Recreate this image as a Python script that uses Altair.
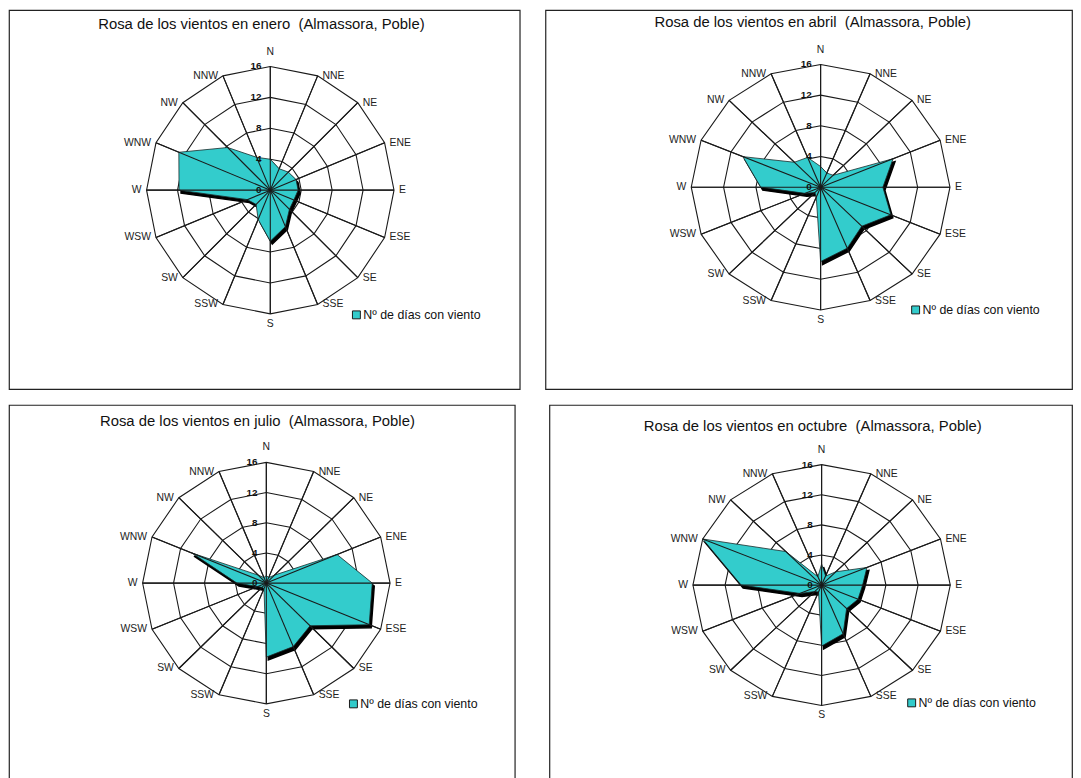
import altair as alt
import pandas as pd

# ---------------- data ----------------
DIRS = ["N", "NNE", "NE", "ENE", "E", "ESE", "SE", "SSE",
        "S", "SSW", "SW", "WSW", "W", "WNW", "NW", "NNW"]

ENERO = [4.0, 3.0, 3.3, 3.6, 3.6, 3.3, 3.5, 5.1, 6.6, 4.1, 2.6, 3.2, 11.8, 12.8, 7.8, 4.6]
ABRIL = [2.7, 2.0, 2.2, 9.7, 7.7, 9.4, 7.2, 8.6, 9.7, 1.4, 1.0, 2.1, 7.4, 10.4, 4.6, 4.2]
JULIO = [1.0, 0.8, 1.5, 9.9, 13.7, 14.4, 8.0, 9.1, 9.8, 0.8, 0.8, 1.2, 3.8, 10.4, 1.5, 0.8]
OCTUBRE = [2.8, 1.3, 2.5, 6.1, 5.1, 4.9, 4.4, 7.0, 8.1, 1.0, 1.2, 2.9, 10.0, 16.0, 6.3, 1.2]

RINGS = [4, 8, 12, 16]
TICKS = [0, 4, 8, 12, 16]
MONTHS = ["enero", "abril", "julio", "octubre"]
LEGEND_LABEL = "Nº de días con viento"
TITLE_FMT = "Rosa de los vientos en {}\u00a0 (Almassora, Poble)"

FILL = "#33CCCC"
GRID = "#1a1a1a"
FONT = "Liberation Sans"
ANG = "datum.k * PI / 8"


def radar(values, month, W, H, cx, cy, rx, ry, tpos, lpos):
    xs = alt.Scale(domain=[-cx * 16 / rx, (W - cx) * 16 / rx], nice=False, zero=False)
    ys = alt.Scale(domain=[-(H - cy) * 16 / ry, cy * 16 / ry], nice=False, zero=False)
    X = alt.X("x:Q", scale=xs, axis=None)
    Y = alt.Y("y:Q", scale=ys, axis=None)

    poly = pd.DataFrame({"k": list(range(17)), "v": values + values[:1]})
    rings = pd.DataFrame([{"r": r, "k": k} for r in RINGS for k in range(17)])
    dirs = pd.DataFrame({"k": list(range(16)), "dir": DIRS})
    ticks = pd.DataFrame({"t": TICKS})

    ring_layer = alt.Chart(rings).transform_calculate(
        x=f"datum.r * sin({ANG})", y=f"datum.r * cos({ANG})"
    ).mark_line(stroke=GRID, strokeWidth=1.1).encode(X, Y, detail="r:N", order="k:Q")

    def spoke_layer():
        return alt.Chart(dirs).transform_calculate(
            x0="0", y0="0", x=f"16 * sin({ANG})", y=f"16 * cos({ANG})"
        ).mark_rule(stroke=GRID, strokeWidth=1.1).encode(
            x=alt.X("x0:Q", scale=xs, axis=None),
            y=alt.Y("y0:Q", scale=ys, axis=None),
            x2="x:Q", y2="y:Q",
        )

    def poly_base():
        return alt.Chart(poly).transform_calculate(
            x=f"datum.v * sin({ANG})", y=f"datum.v * cos({ANG})"
        )

    shadow = poly_base().mark_line(
        fill="#000000", stroke="#000000", strokeWidth=1.5, xOffset=2, yOffset=3,
        strokeJoin="miter"
    ).encode(X, Y, order="k:Q")

    area = poly_base().mark_line(
        fill=FILL, stroke="#1a2a2a", strokeWidth=0.8, strokeJoin="miter"
    ).encode(X, Y, order="k:Q")

    def dir_labels(cond, **kw):
        return alt.Chart(dirs).transform_filter(cond).transform_calculate(
            x=f"16 * sin({ANG})", y=f"16 * cos({ANG})"
        ).mark_text(font=FONT, fontSize=10.5, color="#222", **kw).encode(X, Y, text="dir:N")

    lab_n = dir_labels("datum.k == 0", align="center", baseline="middle", dy=-15)
    lab_s = dir_labels("datum.k == 8", align="center", baseline="middle", dy=10)
    lab_e = dir_labels("datum.k >= 1 && datum.k <= 7", align="left", baseline="middle", dx=5)
    lab_w = dir_labels("datum.k >= 9", align="right", baseline="middle", dx=-5)

    tick_layer = alt.Chart(ticks).transform_calculate(x="0", y="datum.t").mark_text(
        font=FONT, fontSize=10, fontWeight="bold", color="#111", align="right",
        baseline="middle", dx=-9
    ).encode(X, Y, text="t:Q")

    title = alt.Chart(pd.DataFrame({"t": [TITLE_FMT.format(month)]})).mark_text(
        font=FONT, fontSize=15, color="#111", align="center", baseline="middle"
    ).encode(x=alt.value(tpos[0]), y=alt.value(tpos[1]), text="t:N")

    leg_df = pd.DataFrame({"t": [LEGEND_LABEL]})
    leg_sq = alt.Chart(leg_df).mark_rect(fill=FILL, stroke="#1a1a1a", strokeWidth=1).encode(
        x=alt.value(lpos[0]), x2=alt.value(lpos[0] + 8),
        y=alt.value(lpos[1] - 4), y2=alt.value(lpos[1] + 4),
    )
    leg_tx = alt.Chart(leg_df).mark_text(
        font=FONT, fontSize=12.5, color="#111", align="left", baseline="middle"
    ).encode(x=alt.value(lpos[0] + 11), y=alt.value(lpos[1]), text="t:N")

    return alt.layer(
        ring_layer, spoke_layer(), shadow, area, spoke_layer(),
        lab_n, lab_s, lab_e, lab_w, tick_layer, title, leg_sq, leg_tx
    ).properties(width=W, height=H)


p1 = radar(ENERO, MONTHS[0], 516, 383, 264, 182, 125, 125, (255, 14), (347, 308))
p2 = radar(ABRIL, MONTHS[1], 532, 383, 278, 179, 130.7, 124, (270, 12), (370, 303))
p3 = radar(JULIO, MONTHS[2], 511, 385, 260, 180, 125, 122, (251, 16), (344, 302))
p4 = radar(OCTUBRE, MONTHS[3], 528, 385, 275, 182, 130, 121.7, (266, 21), (362, 301))

chart = alt.vconcat(
    alt.hconcat(p1, p2, spacing=24),
    alt.hconcat(p3, p4, spacing=33),
    spacing=14,
).properties(
    padding={"top": -3, "left": 0, "right": 0, "bottom": 0}, background="white"
).configure_view(
    stroke="#222", strokeWidth=1.2
)

chart.save("out.html", embed_options={"renderer": "svg", "actions": False})
